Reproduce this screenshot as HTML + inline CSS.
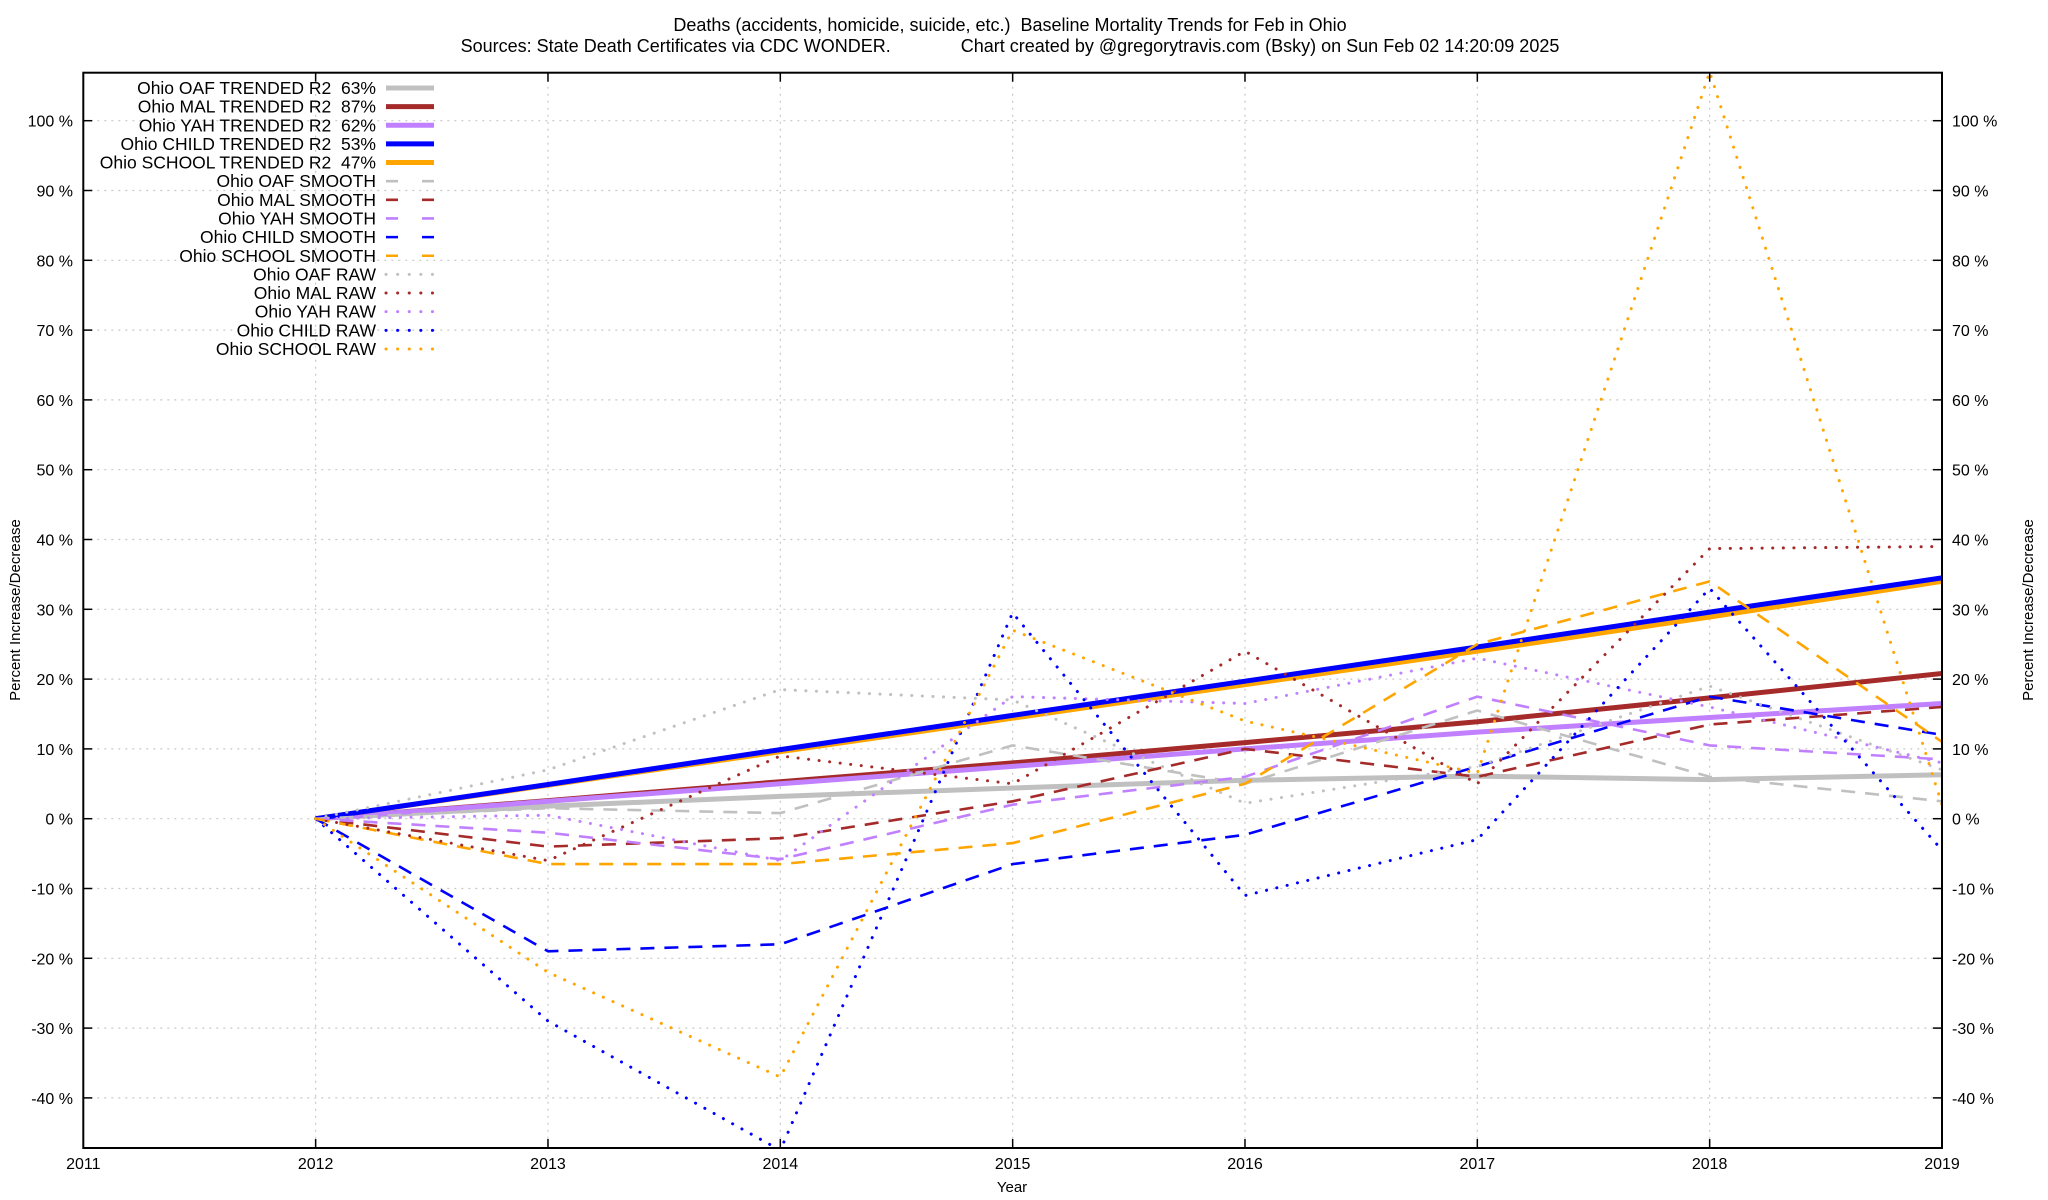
<!DOCTYPE html>
<html><head><meta charset="utf-8"><style>
html,body{margin:0;padding:0;background:#fff;}
svg{display:block;font-family:"Liberation Sans",Arial,sans-serif;}
text{white-space:pre;}
</style></head><body>
<svg id="chart" width="2048" height="1200" viewBox="0 0 2048 1200" xmlns="http://www.w3.org/2000/svg" xml:space="preserve">
<text x="1010" y="31" font-size="18" text-anchor="middle">Deaths (accidents, homicide, suicide, etc.)  Baseline Mortality Trends for Feb in Ohio</text>
<text x="1010" y="52" font-size="18" text-anchor="middle">Sources: State Death Certificates via CDC WONDER.              Chart created by @gregorytravis.com (Bsky) on Sun Feb 02 14:20:09 2025</text>
<g id="grid"></g>
<g id="series"></g>
<rect x="83.3" y="72.7" width="1858.7" height="1075.3" fill="none" stroke="#000" stroke-width="2"/>
<g id="axes"></g>
<g id="legend"></g>
<text x="1012" y="1192" font-size="15" text-anchor="middle">Year</text>
<text transform="translate(20,610) rotate(-90)" font-size="15" text-anchor="middle">Percent Increase/Decrease</text>
<text transform="translate(2033,610) rotate(-90)" font-size="15" text-anchor="middle">Percent Increase/Decrease</text>
</svg>
<script>
const years = [2012,2013,2014,2015,2016,2017,2018,2019];
const xTicks = [2011,2012,2013,2014,2015,2016,2017,2018,2019];
const yTicks = [-40,-30,-20,-10,0,10,20,30,40,50,60,70,80,90,100];
const seriesNames = ["OAF","MAL","YAH","CHILD","SCHOOL"];
const trendR2 = [63,87,62,53,47];
const oafTrend = [0,1.8,3.2,4.4,5.5,6.1,5.6,6.3];
const malTrend = [0,2.6,5.3,8.0,10.9,13.9,17.3,20.8];
const yahTrend = [0,2.5,5.0,7.5,10.0,12.4,14.5,16.5];
const childTrend = [0,4.9,9.9,14.8,19.7,24.6,29.6,34.5];
const schoolTrend = [0,4.8,9.6,14.4,19.2,24.0,28.9,34.0];
const oafSmooth = [0,1.5,0.8,10.5,5.0,15.5,6.0,2.5];
const malSmooth = [0,-4.0,-2.8,2.5,10.0,6.0,13.5,16.0];
const yahSmooth = [0,-2.0,-5.8,2.0,6.0,17.5,10.5,8.5];
const childSmooth = [0,-19.0,-18.0,-6.5,-2.3,7.5,17.5,12.0];
const schoolSmooth = [0,-6.5,-6.5,-3.5,5.0,25.0,34.0,11.0];
const oafRaw = [0,7.0,18.5,17.0,2.2,7.5,19.0,7.0];
const malRaw = [0,-6.0,9.0,5.0,24.0,5.0,38.7,39.0];
const yahRaw = [0,0.5,-6.0,17.5,16.5,23.0,16.0,8.0];
const childRaw = [0,-29.0,-47.5,29.5,-11.0,-3.0,33.0,-4.5];
const schoolRaw = [0,-22.0,-37.0,27.0,14.0,6.5,107.0,2.0];

const NS="http://www.w3.org/2000/svg";
const L=83.3,R=1942,T=72.7,B=1148;
const X=v=>L+(v-2011)*(R-L)/8;
const Y=v=>818.7-v*6.98;
const colors=["#c0c0c0","#a52a2a","#c080ff","#0000ff","#ffa500"];
function mk(tag,attrs,parent){const e=document.createElementNS(NS,tag);for(const k in attrs)e.setAttribute(k,attrs[k]);parent.appendChild(e);return e;}
const grid=document.getElementById('grid'),axes=document.getElementById('axes'),ser=document.getElementById('series'),leg=document.getElementById('legend');
xTicks.forEach(t=>{
  const x=X(t);
  if(t>2011&&t<2019){const g=mk('line',{x1:x,x2:x,y1:T,y2:B,stroke:'#c8c8c8','stroke-width':1.2,'stroke-dasharray':'2 5'},grid);
  
  }
  const a=mk('line',{x1:x,x2:x,y1:B,y2:B-9,stroke:'#000','stroke-width':1.5},axes);
  
  
  const b=mk('line',{x1:x,x2:x,y1:T,y2:T+9,stroke:'#000','stroke-width':1.5},axes);
  
  
  const tx=mk('text',{x:x,y:1169,'font-size':16,'text-anchor':'middle'},axes);tx.textContent=t;
  
  
});
yTicks.forEach(t=>{
  const y=Y(t);
  const g=mk('line',{x1:L,x2:R,y1:y,y2:y,stroke:'#c8c8c8','stroke-width':1.2,'stroke-dasharray':'2 5'},grid);
  
  
  const a=mk('line',{x1:L,x2:L+9,y1:y,y2:y,stroke:'#000','stroke-width':1.5},axes);
  
  
  const b=mk('line',{x1:R,x2:R-9,y1:y,y2:y,stroke:'#000','stroke-width':1.5},axes);
  
  
  const t1=mk('text',{x:73,y:y+6,'font-size':16,'text-anchor':'end'},axes);t1.textContent=t+' %';
  
  
  const t2=mk('text',{x:1952,y:y+6,'font-size':16,'text-anchor':'start'},axes);t2.textContent=t+' %';
  
  
});
const defs=mk('defs',{},document.getElementById('chart'));
const cp=mk('clipPath',{id:'clip'},defs);mk('rect',{x:L,y:T,width:R-L,height:B-T},cp);
ser.setAttribute('clip-path','url(#clip)');
const styles={trend:{w:5,dash:null,cap:'butt'},smooth:{w:2.6,dash:'14 10',cap:'butt'},raw:{w:3,dash:'0.1 10.5',cap:'round'}};
const groups=[["trend",[oafTrend,malTrend,yahTrend,childTrend,schoolTrend]],["smooth",[oafSmooth,malSmooth,yahSmooth,childSmooth,schoolSmooth]],["raw",[oafRaw,malRaw,yahRaw,childRaw,schoolRaw]]];
const labels={trend:i=>`Ohio ${seriesNames[i]} TRENDED R2  ${trendR2[i]}%`,smooth:i=>`Ohio ${seriesNames[i]} SMOOTH`,raw:i=>`Ohio ${seriesNames[i]} RAW`};
let row=0;
groups.forEach(([kind,arrs])=>{
  const s=styles[kind];
  const order=kind==='trend'?[0,1,2,4,3]:[0,1,2,3,4];
  order.forEach(i=>{
    const arr=arrs[i];
    const d=arr.map((v,j)=>(j?'L':'M')+X(years[j]).toFixed(1)+' '+Y(v).toFixed(1)).join(' ');
    const p=mk('path',{d:d,fill:'none',stroke:colors[i],'stroke-width':s.w,'stroke-linecap':s.cap,'stroke-linejoin':'round'},ser);
    if(s.dash)p.setAttribute('stroke-dasharray',s.dash);
    
    
  });
  arrs.forEach((arr,i)=>{
    const ly=88+row*18.64;
    const t=mk('text',{x:376,y:ly+6,'font-size':17.5,'text-anchor':'end'},leg);t.textContent=labels[kind](i);
    
    
    const ln=mk('line',{x1:386,x2:434,y1:ly,y2:ly,stroke:colors[i],'stroke-width':s.w,'stroke-linecap':s.cap},leg);
    if(s.dash)ln.setAttribute('stroke-dasharray',kind==='smooth'?'12 24':'0.1 11.5');
    
    
    row++;
  });
});
</script>
</body></html>
